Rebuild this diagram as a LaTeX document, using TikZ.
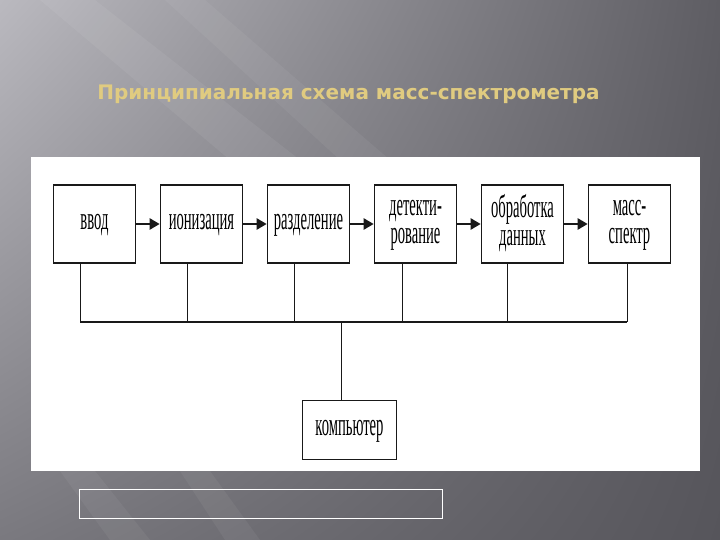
\documentclass[tikz,border=0pt]{standalone}
\usepackage{fontspec}
\setmainfont{Liberation Serif}
\newfontfamily\titlefont{DejaVu Sans}
\usepackage{graphicx}
\usetikzlibrary{arrows.meta, positioning, calc, shadings}
\definecolor{bgtl}{RGB}{186,185,191}
\definecolor{bgtr}{RGB}{94,93,99}
\definecolor{bgbl}{RGB}{122,121,127}
\definecolor{bgbr}{RGB}{86,85,91}
\definecolor{titlegold}{RGB}{224,203,128}
\definecolor{inkblack}{RGB}{25,25,25}
\tikzset{
  stage/.style={rectangle, draw=inkblack, fill=white, line width=1.6pt,
              minimum width=82pt, minimum height=78.5pt, inner sep=0pt,
              font=\fontsize{17}{15}\selectfont},
  pcbox/.style={rectangle, draw=inkblack, fill=white, line width=1.4pt,
              minimum width=94pt, minimum height=59pt, inner sep=0pt,
              font=\fontsize{17}{15}\selectfont},
  flow/.style={-{Triangle[length=10pt, width=11pt]}, line width=2.2pt, draw=inkblack},
  bus/.style={line width=1pt, draw=inkblack},
  busmain/.style={line width=2pt, draw=inkblack},
}
\newcommand{\tall}[1]{\raisebox{-2.5pt}{\scalebox{0.86}[1.9]{\begin{tabular}{@{}c@{}}#1\end{tabular}}}}

\begin{document}
\begin{tikzpicture}[x=1pt, y=-1pt, node distance=23.4pt]
  \useasboundingbox (0,0) rectangle (720,540);
  % slide background
  \shade[upper left=bgtl, upper right=bgtr, lower left=bgbl, lower right=bgbr] (0,0) rectangle (720,540);
  \fill[white, opacity=0.06] (40,0) -- (95,0) -- (300,160) -- (230,160) -- cycle;
  \fill[white, opacity=0.05] (165,0) -- (205,0) -- (390,160) -- (340,160) -- cycle;
  \fill[white, opacity=0.05] (60,471) -- (95,471) -- (150,540) -- (110,540) -- cycle;
  \fill[white, opacity=0.05] (180,471) -- (210,471) -- (260,540) -- (225,540) -- cycle;
  \fill[white] (31,157) rectangle (700,471);

  \node[font=\titlefont\bfseries\fontsize{20}{22}\selectfont, text=titlegold, anchor=base] (title)
        at (348.5,99.5) {Принципиальная схема масс-спектрометра};

  % stages
  \node[stage] (b1) at (94.5,224) {\tall{ввод}};
  \node[stage, right=of b1] (b2) {\tall{ионизация}};
  \node[stage, right=of b2] (b3) {\tall{разделение}};
  \node[stage, right=of b3] (b4) {\tall{детекти-\\рование}};
  \node[stage, right=of b4] (b5) {\tall{обработка\\данных}};
  \node[stage, right=of b5] (b6) {\tall{масс-\\спектр}};

  \node[pcbox] (pc) at (349.5,430) {\tall{компьютер}};

  \draw[flow] (b1.east) -- (b2.west);
  \draw[flow] (b2.east) -- (b3.west);
  \draw[flow] (b3.east) -- (b4.west);
  \draw[flow] (b4.east) -- (b5.west);
  \draw[flow] (b5.east) -- (b6.west);

  % common bus
  \coordinate (busL) at (80,322);
  \coordinate (busR) at (627,322);
  \draw[busmain] (busL) -- (busR);
  \foreach \b/\dx in {b1/-14.5, b2/-14.5, b3/-14.5, b4/-13.5, b5/-15.5, b6/-2.5}
    \draw[bus] ([xshift=\dx pt]\b.south) -- ([xshift=\dx pt]\b.south |- busL);
  \draw[bus] ([xshift=-8.5pt]pc.north) -- ([xshift=-8.5pt]pc.north |- busL);

  \node[draw=white, line width=0.9pt, minimum width=363pt, minimum height=29pt, inner sep=0pt] (note)
        at (261,504) {};
\end{tikzpicture}
\end{document}
